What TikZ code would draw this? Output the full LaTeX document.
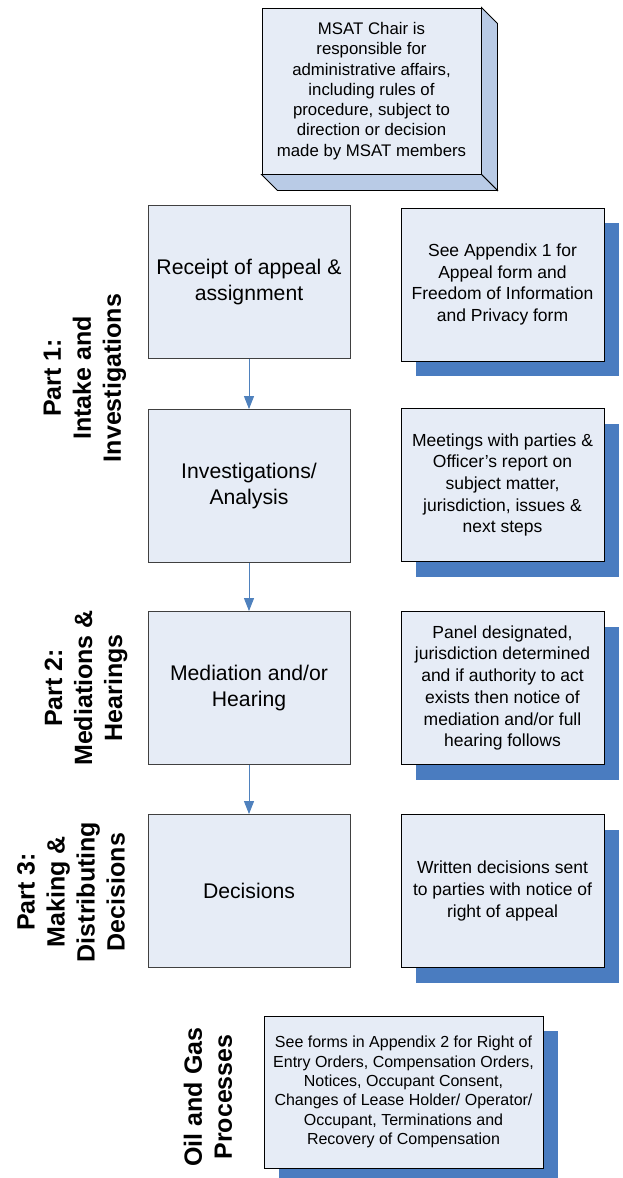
\documentclass[tikz,border=0pt]{standalone}
\usepackage{fontspec}
\setmainfont{Liberation Sans}
\usepackage{tikz}
\usetikzlibrary{shadows}
\usetikzlibrary{positioning}
\usetikzlibrary{arrows.meta,calc}
\definecolor{boxfill}{HTML}{E6ECF6}
\definecolor{shadowblue}{HTML}{4A7CC0}
\definecolor{sideblue}{HTML}{B9CBE6}
\definecolor{arrowblue}{HTML}{4F81BD}
\tikzstyle{stepbox}=[rectangle,draw=black!75,fill=boxfill,line width=0.9pt,minimum width=202pt,minimum height=153pt,inner sep=0pt,align=center,font=\fontsize{21.2}{26}\selectfont]
\tikzstyle{notebox}=[rectangle,draw=black,fill=boxfill,line width=0.9pt,minimum width=203pt,minimum height=153pt,inner sep=0pt,align=center,font=\fontsize{17.5}{21.7}\selectfont,drop shadow={shadow xshift=15pt,shadow yshift=-15pt,fill=shadowblue,opacity=1}]
\tikzstyle{chairbox}=[rectangle,draw=black,fill=boxfill,line width=0.9pt,minimum width=219pt,minimum height=166pt,inner sep=0pt,align=center,font=\fontsize{16.8}{20.3}\selectfont]
\tikzstyle{partlabel}=[rotate=90,align=center,inner sep=0pt,font=\bfseries\fontsize{25}{30}\selectfont]
\tikzstyle{flow}=[draw=arrowblue,line width=0.9pt,-{Triangle[width=10pt,length=13pt,fill=arrowblue]}]

\begin{document}
\begin{tikzpicture}[x=1pt,y=-1pt]

  \useasboundingbox (0,0) rectangle (622,1178);

  % chair box with its depth
  \node[chairbox] (chair) at (371.5,91) {MSAT Chair is\\responsible for\\administrative affairs,\\including rules of\\procedure, subject to\\direction or decision\\made by MSAT members};
  \filldraw[fill=sideblue,draw=black,line width=0.9pt] (chair.north east) -- ($(chair.north east)+(16,16)$) -- ($(chair.south east)+(16,16)$) -- (chair.south east) -- cycle;
  \filldraw[fill=sideblue,draw=black,line width=0.9pt] (chair.south west) -- ($(chair.south west)+(16,16)$) -- ($(chair.south east)+(16,16)$) -- (chair.south east) -- cycle;

  \foreach \y/\name/\txt in {282/receipt/{Receipt of appeal \&\\assignment}, 486/invest/{Investigations/\\Analysis}, 688/mediation/{Mediation and/or\\Hearing}, 891/decisions/{Decisions}}
          \node[stepbox] (\name) at (249,\y) {\txt};

  \foreach \y/\name/\txt in {284.5/appendixone/{See Appendix 1 for\\Appeal form and\\Freedom of Information\\and Privacy form}, 485/meetings/{Meetings with parties \&\\Officer’s report on\\subject matter,\\jurisdiction, issues \&\\next steps}, 688/panel/{Panel designated,\\jurisdiction determined\\and if authority to act\\exists then notice of\\mediation and/or full\\hearing follows}, 891/written/{Written decisions sent\\to parties with notice of\\right of appeal}}
          \node[notebox] (\name) at (502.5,\y) {\txt};

  \node[notebox,minimum width=279pt,minimum height=152pt,font=\fontsize{16}{19.3}\selectfont] (oilforms) at (403.5,1092) {See forms in Appendix 2 for Right of\\Entry Orders, Compensation Orders,\\Notices, Occupant Consent,\\Changes of Lease Holder/ Operator/\\Occupant, Terminations and\\Recovery of Compensation};

  \foreach \source/\dest in {receipt/invest, invest/mediation, mediation/decisions}
         \path[flow] (\source) -- (\dest);

  \node[partlabel] (partone) at (85,378) {Part 1:\\Intake and\\Investigations};
  \node[partlabel] (parttwo) at (86,688) {Part 2:\\Mediations \&\\Hearings};
  \node[partlabel] (partthree) at (71,892) {Part 3:\\Making \&\\Distributing\\Decisions};
  \node[partlabel] (oilgas) at (208,1097) {Oil and Gas\\Processes};

\end{tikzpicture}
\end{document}
